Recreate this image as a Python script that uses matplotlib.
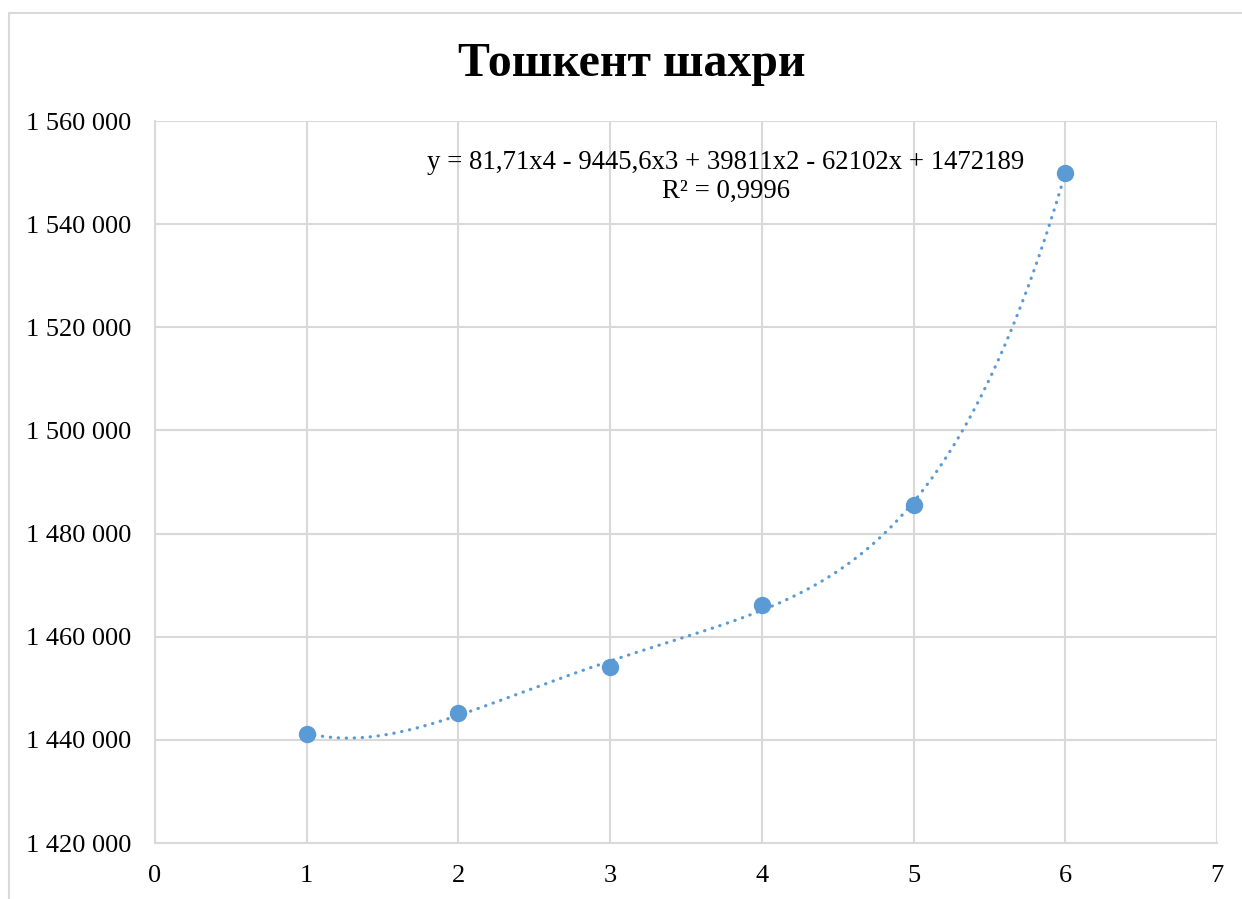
import numpy as np
import matplotlib
matplotlib.use("Agg")
import matplotlib.pyplot as plt
from matplotlib.patches import Rectangle
from matplotlib.ticker import FuncFormatter

title = "Тошкент шахри"
x_vals = [1, 2, 3, 4, 5, 6]
y_vals = [1441200, 1445300, 1454200, 1466200, 1485600, 1550000]
equation_text = "y = 81,71x4 - 9445,6x3 + 39811x2 - 62102x + 1472189\nR² = 0,9996"
x_ticks = [0, 1, 2, 3, 4, 5, 6, 7]
y_ticks = [1420000, 1440000, 1460000, 1480000, 1500000, 1520000, 1540000, 1560000]

W, H = 1242, 899
fig = plt.figure(figsize=(W / 100, H / 100), dpi=100)
plt.rcParams['font.family'] = ['Liberation Serif', 'DejaVu Serif']

# outer chart border
fig.patches.append(Rectangle((9 / W, -0.1), 1.2, (H - 13) / H + 0.1, transform=fig.transFigure,
                             fill=False, edgecolor='#d9d9d9', linewidth=1.5))

ax = fig.add_axes([155 / W, 1 - 843 / H, (1217 - 155) / W, (843 - 121) / H])
ax.set_xlim(0, 7)
ax.set_ylim(1420000, 1560000)
ax.set_xticks(x_ticks)
ax.set_yticks(y_ticks)
ax.yaxis.set_major_formatter(FuncFormatter(lambda v, p: f"{int(v):,}".replace(",", " ")))
ax.grid(True, color='#d9d9d9', linewidth=1.5)
ax.set_axisbelow(True)
for s in ax.spines.values():
    s.set_visible(False)
for side in ('left', 'bottom'):
    ax.spines[side].set_visible(True)
    ax.spines[side].set_color('#d9d9d9')
    ax.spines[side].set_linewidth(1.5)
ax.tick_params(length=0, labelsize=19, colors='black')
ax.tick_params(axis='y', pad=17)
ax.tick_params(axis='x', pad=16)

# polynomial trendline (order 4)
coef = np.polyfit(x_vals, y_vals, 4)
xs = np.linspace(x_vals[0], x_vals[-1], 400)
ax.plot(xs, np.polyval(coef, xs), color='#5b9bd5', linewidth=2.3,
        linestyle=(0, (0.1, 2.4)), dash_capstyle='round', zorder=3)
ax.plot(x_vals, y_vals, 'o', color='#5b9bd5', markersize=11.5, zorder=4)

fig.text(726 / W, 1 - 177 / H, equation_text, ha='center', va='center', fontsize=19.3,
         linespacing=1.25)

fig.text(632 / W, 1 - 64 / H, title, ha='center', va='center', fontsize=34.5, fontweight='bold')

fig.savefig("out.png", dpi=100)
